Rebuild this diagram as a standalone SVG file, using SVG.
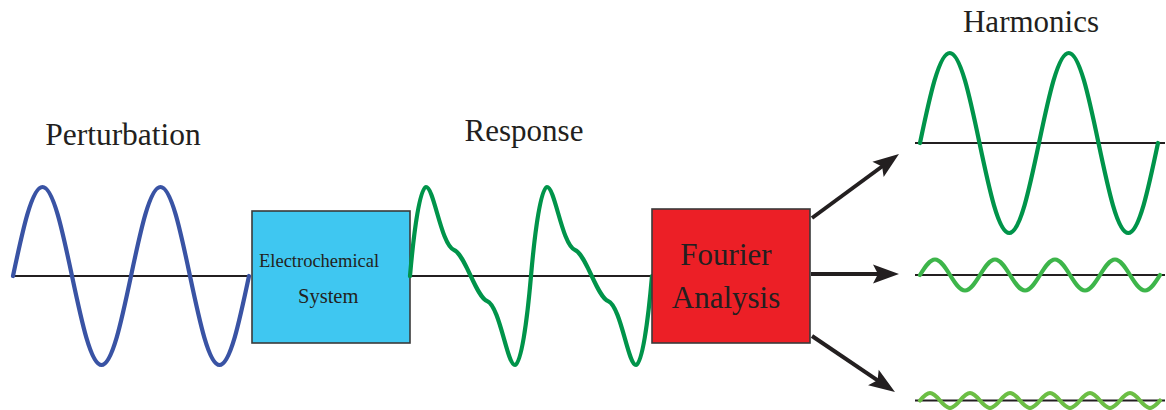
<svg xmlns="http://www.w3.org/2000/svg" width="1166" height="410" viewBox="0 0 1166 410">
  <style>
    .label { font-family: "Liberation Serif", "Times New Roman", serif; fill: #231f20; }
    .axis { stroke: #231f20; stroke-width: 2.2; fill: none; }
    .wave { fill: none; stroke-width: 4.2; stroke-linecap: round; stroke-linejoin: round; }
    .box { stroke: #3a3a3a; stroke-width: 1.6; }
    .arrow { stroke: #231f20; stroke-width: 4; fill: none; marker-end: url(#head); }
  </style>
  <defs>
    <marker id="head" markerUnits="userSpaceOnUse" markerWidth="30" markerHeight="24" refX="10" refY="0" orient="auto" overflow="visible">
      <path d="M0,-9.5 L26,0 L0,9.5 L5,0 Z" fill="#231f20"/>
    </marker>
  </defs>

  <!-- input signal -->
  <g id="perturbation">
    <text class="label" x="123" y="145" font-size="31.5" text-anchor="middle">Perturbation</text>
    <line class="axis" x1="13" y1="276" x2="249" y2="276"/>
    <path class="wave" stroke="#3953a4" d="M13,276
      c 9.62,-45.6 18.82,-89 29.5,-89 c 10.68,0 19.88,43.4 29.5,89
      c 9.62,45.6 18.82,89 29.5,89 c 10.68,0 19.88,-43.4 29.5,-89
      c 9.62,-45.6 18.82,-89 29.5,-89 c 10.68,0 19.88,43.4 29.5,89
      c 9.62,45.6 18.82,89 29.5,89 c 10.68,0 19.88,-43.4 29.5,-89"/>
  </g>

  <!-- system under test -->
  <g id="system">
    <rect class="box" x="252" y="211" width="158" height="132" fill="#3fc7f1"/>
    <text class="label" x="259" y="267" font-size="18.5">Electrochemical</text>
    <text class="label" x="298" y="303" font-size="20.5">System</text>
  </g>

  <!-- distorted output signal -->
  <g id="response">
    <text class="label" x="524" y="141" font-size="31" text-anchor="middle">Response</text>
    <line class="axis" x1="410" y1="276" x2="652" y2="276"/>
    <path class="wave" stroke="#00944a" d="M410,276
      c 4,-46 10,-89 16,-89 c 8,0 15,58 28,63 c 11,4 22,47 33,51 c 13,5 20,64 28,64 c 6,0 12,-43 16,-89
      c 4,-46 10,-89 16,-89 c 8,0 15,58 28,63 c 11,4 22,47 33,51 c 13,5 20,64 28,64 c 6,0 12,-43 16,-89"/>
  </g>

  <!-- analysis block -->
  <g id="fourier">
    <rect class="box" x="652" y="209" width="158" height="134" fill="#ec1f26"/>
    <text class="label" x="726" y="265" font-size="31" text-anchor="middle">Fourier</text>
    <text class="label" x="726" y="308" font-size="31" text-anchor="middle">Analysis</text>
  </g>

  <!-- decomposed components -->
  <g id="harmonics">
    <text class="label" x="1031" y="32" font-size="31" text-anchor="middle">Harmonics</text>
    <line class="axis" x1="915" y1="143" x2="1165" y2="143"/>
    <path class="wave" stroke="#00944a" d="M920,143
      c 9.70,-46.1 18.98,-90 29.75,-90 c 10.77,0 20.05,43.9 29.75,90
      c 9.70,46.1 18.98,90 29.75,90 c 10.77,0 20.05,-43.9 29.75,-90
      c 9.70,-46.1 18.98,-90 29.75,-90 c 10.77,0 20.05,43.9 29.75,90
      c 9.70,46.1 18.98,90 29.75,90 c 10.77,0 20.05,-43.9 29.75,-90"/>
    <line class="axis" x1="915" y1="275" x2="1165" y2="275"/>
    <path class="wave" stroke="#3db54a" d="M920,275
      c 4.89,-7.94 9.57,-15.5 15,-15.5 c 5.43,0 10.11,7.56 15,15.5 c 4.89,7.94 9.57,15.5 15,15.5 c 5.43,0 10.11,-7.56 15,-15.5
      c 4.89,-7.94 9.57,-15.5 15,-15.5 c 5.43,0 10.11,7.56 15,15.5 c 4.89,7.94 9.57,15.5 15,15.5 c 5.43,0 10.11,-7.56 15,-15.5
      c 4.89,-7.94 9.57,-15.5 15,-15.5 c 5.43,0 10.11,7.56 15,15.5 c 4.89,7.94 9.57,15.5 15,15.5 c 5.43,0 10.11,-7.56 15,-15.5
      c 4.89,-7.94 9.57,-15.5 15,-15.5 c 5.43,0 10.11,7.56 15,15.5 c 4.89,7.94 9.57,15.5 15,15.5 c 5.43,0 10.11,-7.56 15,-15.5"/>
    <line class="axis" x1="915" y1="400.5" x2="1165" y2="400.5"/>
    <path class="wave" stroke="#6cbe45" d="M920,400.5
      c 3.26,-3.84 6.38,-7.5 10,-7.5 c 3.62,0 6.74,3.66 10,7.5 c 3.26,3.84 6.38,7.5 10,7.5 c 3.62,0 6.74,-3.66 10,-7.5
      c 3.26,-3.84 6.38,-7.5 10,-7.5 c 3.62,0 6.74,3.66 10,7.5 c 3.26,3.84 6.38,7.5 10,7.5 c 3.62,0 6.74,-3.66 10,-7.5
      c 3.26,-3.84 6.38,-7.5 10,-7.5 c 3.62,0 6.74,3.66 10,7.5 c 3.26,3.84 6.38,7.5 10,7.5 c 3.62,0 6.74,-3.66 10,-7.5
      c 3.26,-3.84 6.38,-7.5 10,-7.5 c 3.62,0 6.74,3.66 10,7.5 c 3.26,3.84 6.38,7.5 10,7.5 c 3.62,0 6.74,-3.66 10,-7.5
      c 3.26,-3.84 6.38,-7.5 10,-7.5 c 3.62,0 6.74,3.66 10,7.5 c 3.26,3.84 6.38,7.5 10,7.5 c 3.62,0 6.74,-3.66 10,-7.5
      c 3.26,-3.84 6.38,-7.5 10,-7.5 c 3.62,0 6.74,3.66 10,7.5 c 3.26,3.84 6.38,7.5 10,7.5 c 3.62,0 6.74,-3.66 10,-7.5"/>
  </g>

  <!-- arrows from the analysis block to each component -->
  <g id="connectors">
    <line class="arrow" x1="812" y1="218" x2="886.1" y2="163.5"/>
    <line class="arrow" x1="811" y1="274" x2="883" y2="274"/>
    <line class="arrow" x1="812" y1="336" x2="881.7" y2="383.1"/>
  </g>
</svg>
